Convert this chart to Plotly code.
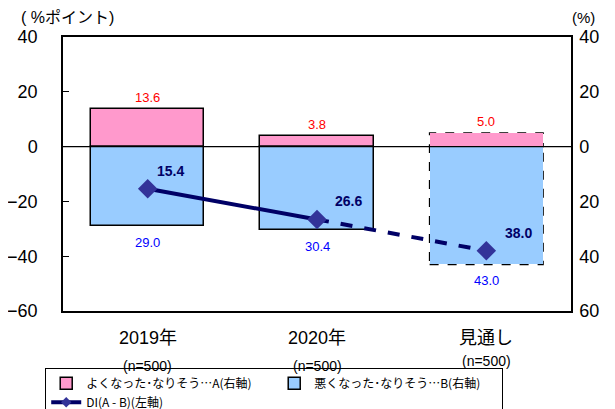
import plotly.graph_objects as go

categories = ["2019年", "2020年", "見通し"]
n_labels = ["(n=500)", "(n=500)", "(n=500)"]
good_A = [13.6, 3.8, 5.0]
bad_B = [29.0, 30.4, 43.0]
di = [-15.4, -26.6, -38.0]
left_ticks = [-60, -40, -20, 0, 20, 40]
right_ticktext = ["60", "40", "20", "0", "20", "40"]

FONT = "Liberation Sans, Arial, Noto Sans CJK JP"
JFONT = "Noto Sans CJK JP, Liberation Sans"
xs = list(range(len(categories)))
bw = 0.67
di_label_dx = [23, 31, 32]

fig = go.Figure()
line_w = [1.5, 1.5, 0]
# bars on the right-hand axis (y), DI on the left-hand axis (y2, drawn on top)
fig.add_trace(go.Bar(x=xs, y=good_A, width=bw, name="よくなった･なりそう…A(右軸)",
                     marker=dict(color="#FF99CC", line=dict(color="black", width=line_w)),
                     yaxis="y", hoverinfo="skip"))
fig.add_trace(go.Bar(x=xs, y=[-b for b in bad_B], width=bw, name="悪くなった･なりそう…B(右軸)",
                     marker=dict(color="#99CCFF", line=dict(color="black", width=line_w)),
                     yaxis="y", hoverinfo="skip"))
fig.add_trace(go.Scatter(x=xs[:2], y=di[:2], mode="lines", yaxis="y2",
                         line=dict(color="#000066", width=4), showlegend=False))
fig.add_trace(go.Scatter(x=xs[1:], y=di[1:], mode="lines", yaxis="y2",
                         line=dict(color="#000066", width=4, dash="dash"), showlegend=False))
fig.add_trace(go.Scatter(x=xs, y=di, mode="markers", yaxis="y2",
                         marker=dict(symbol="diamond", size=15, color="#333399"), showlegend=False))
# legend entry for DI
fig.add_trace(go.Scatter(x=[None], y=[None], mode="lines+markers", yaxis="y2",
                         name="DI(A - B)(左軸)", line=dict(color="#000066", width=4),
                         marker=dict(symbol="diamond", size=8, color="#333399")))

# dashed outlines for forecast bars
i = 2
for top, bot in [(good_A[i], 0), (0, -bad_B[i])]:
    fig.add_shape(type="rect", xref="x", yref="y", x0=xs[i] - bw / 2, x1=xs[i] + bw / 2,
                  y0=bot, y1=top, line=dict(color="black", width=1.5, dash="dash"), layer="below")

# zero line
fig.add_shape(type="line", xref="paper", yref="y", x0=0, x1=1, y0=0, y1=0,
              line=dict(color="black", width=1.2))

anns = []
for k in xs:
    anns.append(dict(x=k, y=good_A[k], yref="y", text=f"{good_A[k]:.1f}", showarrow=False,
                     yanchor="bottom", yshift=2, font=dict(color="#FF0000", size=13, family=FONT)))
    anns.append(dict(x=k, y=-bad_B[k], yref="y", text=f"{bad_B[k]:.1f}", showarrow=False,
                     yanchor="top", yshift=-7, font=dict(color="#0000FF", size=13, family=FONT)))
    anns.append(dict(x=k, y=di[k], yref="y2", text=f"<b>{abs(di[k]):.1f}</b>", showarrow=False,
                     xshift=di_label_dx[k], yshift=18, font=dict(color="#000066", size=14, family=FONT)))
    anns.append(dict(x=k, y=0, yref="paper", text=categories[k], showarrow=False,
                     yanchor="middle", yshift=-27, font=dict(color="black", size=18, family=FONT)))
    anns.append(dict(x=k, y=0, yref="paper", text=n_labels[k], showarrow=False,
                     yanchor="middle", yshift=-55 if k < 2 else -50,
                     font=dict(color="black", size=14, family=FONT)))
anns.append(dict(x=0, y=1, xref="paper", yref="paper", text="( %ポイント)", showarrow=False,
                 xanchor="left", yanchor="middle", xshift=-44, yshift=20,
                 font=dict(color="black", size=16, family=FONT)))
anns.append(dict(x=1, y=1, xref="paper", yref="paper", text="(%)", showarrow=False,
                 xanchor="center", yanchor="middle", xshift=12, yshift=20,
                 font=dict(color="black", size=15, family=FONT)))

fig.update_layout(
    width=607, height=401,
    margin=dict(l=55, r=44, t=29, b=98, autoexpand=False),
    paper_bgcolor="white", plot_bgcolor="white",
    barmode="overlay", bargap=0,
    showlegend=True,
    annotations=anns,
    xaxis=dict(range=[-0.5, 2.5], showticklabels=False, ticks="", showgrid=False, zeroline=False,
               showline=True, linecolor="black", linewidth=1.5, mirror=True, fixedrange=True),
    yaxis=dict(range=[-60, 40], side="right", tickvals=left_ticks,
               ticktext=right_ticktext, ticks="", showgrid=False, zeroline=False,
               showline=True, linecolor="black", linewidth=1.5,
               tickfont=dict(size=18, color="black", family=FONT), ticklabelstandoff=3),
    yaxis2=dict(range=[-60, 40], overlaying="y", side="left", tickvals=left_ticks,
                ticks="inside", ticklen=6, tickcolor="black",
                showgrid=False, zeroline=False, showline=True, linecolor="black", linewidth=1.5,
                tickfont=dict(size=18, color="black", family=FONT), ticklabelstandoff=20),
    legend=dict(orientation="h", x=-0.035, y=-0.207, xanchor="left", yanchor="top",
                bordercolor="black", borderwidth=1, bgcolor="white",
                entrywidth=183, entrywidthmode="pixels", traceorder="normal",
                font=dict(size=12, color="black", family=JFONT), itemwidth=30,
                tracegroupgap=0),
)

fig.write_html("out.html")
